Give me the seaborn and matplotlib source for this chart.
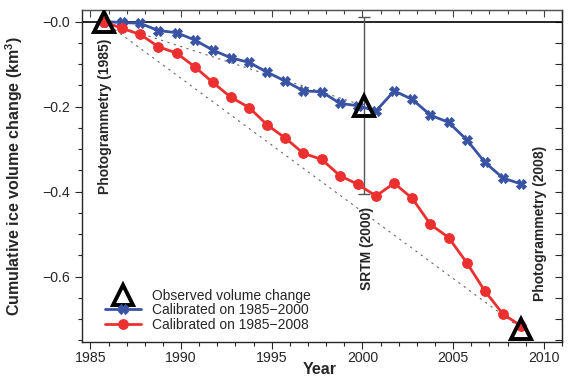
import numpy as np
import pandas as pd
import matplotlib
matplotlib.use("Agg")
import matplotlib.pyplot as plt
import seaborn as sns
from matplotlib.ticker import MultipleLocator, FuncFormatter

years = [1985.75 + i for i in range(24)]

cal_1985_2000 = [0.0, -0.002, -0.004, -0.021, -0.026, -0.043, -0.067, -0.085,
                 -0.096, -0.119, -0.140, -0.163, -0.165, -0.192, -0.198, -0.210,
                 -0.163, -0.183, -0.220, -0.237, -0.278, -0.331, -0.368, -0.382]

cal_1985_2008 = [0.0, -0.016, -0.030, -0.059, -0.074, -0.106, -0.143, -0.178,
                 -0.202, -0.243, -0.274, -0.310, -0.324, -0.362, -0.383, -0.410,
                 -0.380, -0.416, -0.477, -0.508, -0.567, -0.634, -0.688, -0.716]

obs_years = [1985.75, 2000.1, 2008.75]
obs_values = [0.0, -0.198, -0.722]
srtm_err = 0.208

obs_labels = ["Photogrammetry (1985)", "SRTM (2000)", "Photogrammetry (2008)"]

blue = "#3953a4"
red = "#ec2f2f"

sns.set_style("ticks")
plt.rcParams["font.family"] = ["Liberation Sans", "DejaVu Sans"]
plt.rcParams["axes.unicode_minus"] = True

fig = plt.figure(figsize=(5.68, 3.77), dpi=100)
ax = fig.add_axes([0.1444, 0.0936, 0.8450, 0.8800])

s1 = "Calibrated on 1985\u22122000"
s2 = "Calibrated on 1985\u22122008"
df = pd.DataFrame({
    "Year": years * 2,
    "value": cal_1985_2000 + cal_1985_2008,
    "series": [s1] * 24 + [s2] * 24,
})

# dotted straight lines between observations
ax.plot([obs_years[0], obs_years[1]], [obs_values[0], obs_values[1]],
        ls=(0, (2, 4)), color="#666666", lw=0.8, zorder=1)
ax.plot([obs_years[0], obs_years[2]], [obs_values[0], obs_values[2]],
        ls=(0, (2, 4)), color="#666666", lw=0.8, zorder=1)

ax.axhline(0, color="black", lw=1.2, zorder=1)

ax.errorbar(obs_years[1], obs_values[1], yerr=srtm_err, fmt="none",
            ecolor="#555555", elinewidth=1.0, capsize=4, zorder=2)

sns.lineplot(data=df[df.series == s1], x="Year", y="value",
             color=blue, marker="X", markersize=7, markeredgecolor=blue,
             linewidth=2, ax=ax, label=s1, zorder=3)
sns.lineplot(data=df[df.series == s2], x="Year", y="value",
             color=red, marker="o", markersize=7, markeredgecolor=red,
             linewidth=2, ax=ax, label=s2, zorder=3)

ax.plot(obs_years, obs_values, ls="none", marker="^", markersize=14,
        markerfacecolor="none", markeredgecolor="black", markeredgewidth=2.8,
        zorder=5, label="Observed volume change")

# vertical annotations
ax.text(1985.82, -0.040, obs_labels[0], rotation=90, ha="center", va="top",
        fontsize=10, fontweight="bold")
ax.text(2000.26, -0.435, obs_labels[1], rotation=90, ha="center", va="top",
        fontsize=10, fontweight="bold")
ax.text(2009.77, -0.292, obs_labels[2], rotation=90, ha="center", va="top",
        fontsize=10, fontweight="bold")

ax.set_xlim(1984.54, 2011.0)
ax.set_ylim(-0.753, 0.0275)
ax.xaxis.set_major_locator(MultipleLocator(5))
ax.xaxis.set_minor_locator(MultipleLocator(1))
ax.yaxis.set_major_locator(MultipleLocator(0.2))
ax.yaxis.set_minor_locator(MultipleLocator(0.05))
ax.yaxis.set_major_formatter(FuncFormatter(
    lambda v, p: "\u22120.0" if abs(v) < 1e-9 else f"{v:.1f}".replace("-", "\u2212")))

ax.tick_params(which="both", direction="out", labelsize=10.2, width=0.8)
ax.tick_params(axis="x", pad=2)
ax.tick_params(which="major", length=5)
ax.tick_params(which="minor", length=3)
# mirrored ticks on top/right point inward
sec_x = ax.secondary_xaxis("top")
sec_x.xaxis.set_major_locator(MultipleLocator(5))
sec_x.xaxis.set_minor_locator(MultipleLocator(1))
sec_x.tick_params(which="both", direction="in", labeltop=False, width=0.8,
                  color="#444444")
sec_x.tick_params(which="major", length=5)
sec_x.tick_params(which="minor", length=3)
sec_y = ax.secondary_yaxis("right")
sec_y.yaxis.set_major_locator(MultipleLocator(0.2))
sec_y.yaxis.set_minor_locator(MultipleLocator(0.05))
sec_y.tick_params(which="both", direction="in", labelright=False, width=0.8)
sec_y.tick_params(which="major", length=5)
sec_y.tick_params(which="minor", length=5)
for s in ax.spines.values():
    s.set_linewidth(1.0)
ax.spines["top"].set_color("#555555")

ax.set_xlabel("Year", fontsize=11.5, fontweight="bold")
ax.xaxis.set_label_coords(0.495, -0.062)
ax.set_ylabel("Cumulative ice volume change (km$^\\mathregular{3}$)", fontsize=11.5,
              fontweight="bold")
ax.yaxis.set_label_coords(-0.118, 0.5)

h, l = ax.get_legend_handles_labels()
order = [2, 0, 1]
ax.legend([h[i] for i in order], [l[i] for i in order], loc="lower left",
          frameon=False, fontsize=10, handlelength=2.6, labelspacing=0.05,
          borderaxespad=0.3, bbox_to_anchor=(0.027, 0.0))

fig.savefig("out.png", dpi=100)
